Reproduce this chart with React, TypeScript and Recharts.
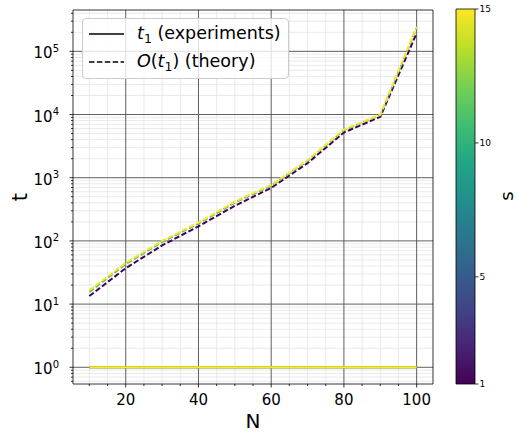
import React from 'react';
import {LineChart, ComposedChart, Line, XAxis, YAxis, CartesianGrid, ReferenceArea, Label} from 'recharts';

// grid sizes N on the x axis
const N_VALUES = [10, 20, 30, 40, 50, 60, 70, 80, 90, 100];
// s values that were plotted (coloured with viridis over 1..15)
const S_VALUES = [1, 11, 15];

// t1 measured in the experiments (flat at 1 for every s)
const EXP_S1 = [1, 1, 1, 1, 1, 1, 1, 1, 1, 1];
const EXP_S11 = [1, 1, 1, 1, 1, 1, 1, 1, 1, 1];
const EXP_S15 = [1, 1, 1, 1, 1, 1, 1, 1, 1, 1];

// O(t1) from theory
const THEORY_S1 = [13.4, 37, 85, 170, 360, 690, 1700, 5200, 9200, 193000];
const THEORY_S11 = [15.6, 43, 96, 188, 405, 745, 1850, 5650, 9800, 232000];
const THEORY_S15 = [16.6, 45, 100, 195, 420, 770, 1900, 5800, 10000, 243000];

const X_MAJOR_TICKS = [20, 40, 60, 80, 100];
const X_MINOR_TICKS = [10, 15, 25, 30, 35, 45, 50, 55, 65, 70, 75, 85, 90, 95];
const Y_MAJOR_TICKS = [1, 10, 100, 1000, 10000, 100000];
const S_TICKS = [1, 5, 10, 15];

const X_DOMAIN = [5.5, 104.5];
const Y_DOMAIN = [0.544, 451000];
const S_DOMAIN = [1, 15];

// log minor ticks 2..9 in every decade that is on screen
const Y_MINOR_TICKS: number[] = [];
for (let e = -1; e <= 5; e++) {
  for (let k = 2; k <= 9; k++) {
    const v = k * Math.pow(10, e);
    if (v > Y_DOMAIN[0] && v < Y_DOMAIN[1]) Y_MINOR_TICKS.push(v);
  }
}

const EXPERIMENTS = [EXP_S1, EXP_S11, EXP_S15];
const THEORY = [THEORY_S1, THEORY_S11, THEORY_S15];

const rows = N_VALUES.map((n, i) => {
  const row: Record<string, number> = {N: n};
  S_VALUES.forEach((s, j) => {
    row[`exp${s}`] = EXPERIMENTS[j][i];
    row[`th${s}`] = THEORY[j][i];
  });
  return row;
});

const VIRIDIS = [
  '#440154', '#482475', '#414487', '#355f8d', '#2a788e', '#21918c',
  '#22a884', '#44bf70', '#7ad151', '#bddf26', '#fde725',
];

const hexToRgb = (h: string) => [1, 3, 5].map((i) => parseInt(h.slice(i, i + 2), 16));

const viridis = (s: number) => {
  const t = (s - S_DOMAIN[0]) / (S_DOMAIN[1] - S_DOMAIN[0]);
  const p = t * (VIRIDIS.length - 1);
  const i = Math.min(Math.floor(p), VIRIDIS.length - 2);
  const f = p - i;
  const a = hexToRgb(VIRIDIS[i]);
  const b = hexToRgb(VIRIDIS[i + 1]);
  const c = a.map((v, k) => Math.round(v + (b[k] - v) * f));
  return `rgb(${c[0]},${c[1]},${c[2]})`;
};

const FONT = '"DejaVu Sans", sans-serif';
const DASH = '5.5 2.4';

const XTick = (props: any) => {
  const {x, y, payload} = props;
  const major = X_MAJOR_TICKS.includes(payload.value);
  return (
    <g>
      <line x1={x} x2={x} y1={y} y2={y + (major ? 3.5 : 2)} stroke='#000' strokeWidth={0.8} />
      {major && (
        <text x={x} y={y + 21} textAnchor='middle' fontSize={15} fill='#000' fontFamily={FONT}>
          {payload.value}
        </text>
      )}
    </g>
  );
};

const YTick = (props: any) => {
  const {x, y, payload} = props;
  const major = Y_MAJOR_TICKS.includes(payload.value);
  const exp = Math.round(Math.log10(payload.value));
  return (
    <g>
      <line x1={x} x2={x - (major ? 3.5 : 2)} y1={y} y2={y} stroke='#000' strokeWidth={0.8} />
      {major && (
        <text x={x - 14} y={y + 7} textAnchor='end' fontSize={15} fill='#000' fontFamily={FONT}>
          10
          <tspan fontSize={10} dy={-6.5}>
            {exp}
          </tspan>
        </text>
      )}
    </g>
  );
};

const LegendBox = () => (
  <div
    style={{
      position: 'absolute',
      left: 82,
      top: 18,
      width: 205,
      height: 59,
      border: '1px solid #cccccc',
      borderRadius: 4,
      background: 'rgba(255,255,255,0.8)',
      fontFamily: FONT,
      fontSize: 17.5,
      color: '#000',
    }}
  >
    <svg style={{position: 'absolute', left: 0, top: 0}} width={50} height={59}>
      <line x1={6} x2={41} y1={15} y2={15} stroke='#000' strokeWidth={1.5} />
      <line x1={6} x2={41} y1={43} y2={43} stroke='#000' strokeWidth={1.5} strokeDasharray={DASH} />
    </svg>
    <div style={{position: 'absolute', left: 54, top: 3, whiteSpace: 'nowrap', lineHeight: '22px'}}>
      <i>t</i>
      <span style={{fontSize: 12.5, position: 'relative', top: 4}}>1</span> (experiments)
    </div>
    <div style={{position: 'absolute', left: 54, top: 31, whiteSpace: 'nowrap', lineHeight: '22px'}}>
      <i>O</i>(<i>t</i>
      <span style={{fontSize: 12.5, position: 'relative', top: 4}}>1</span>) (theory)
    </div>
  </div>
);

export default function App() {
  return (
    <div style={{position: 'absolute', left: 0, top: 0, width: 518, height: 434, background: '#fff', fontFamily: FONT}}>
      <div style={{position: 'absolute', left: 0, top: 0}}>
        <LineChart width={440} height={434} data={rows} margin={{top: 10, right: 7, bottom: 0, left: 0}}>
          <CartesianGrid
            horizontalValues={Y_MINOR_TICKS}
            verticalValues={X_MINOR_TICKS}
            stroke='#e4e4e4'
            strokeWidth={0.8}
          />
          <CartesianGrid
            horizontalValues={Y_MAJOR_TICKS}
            verticalValues={X_MAJOR_TICKS}
            stroke='#4d4d4d'
            strokeWidth={0.9}
          />
          <XAxis
            dataKey='N'
            type='number'
            domain={X_DOMAIN}
            ticks={[...X_MINOR_TICKS, ...X_MAJOR_TICKS].sort((a, b) => a - b)}
            interval={0}
            allowDataOverflow
            height={50}
            tickSize={0}
            tickMargin={0}
            tickLine={false}
            axisLine={false}
            tick={<XTick />}
          >
            <Label
              content={() => (
                <text x={253} y={428} textAnchor='middle' fontSize={20} fill='#000' fontFamily={FONT}>
                  N
                </text>
              )}
            />
          </XAxis>
          <YAxis
            type='number'
            scale='log'
            domain={Y_DOMAIN}
            ticks={[...Y_MINOR_TICKS, ...Y_MAJOR_TICKS].sort((a, b) => a - b)}
            interval={0}
            allowDataOverflow
            width={73}
            tickSize={0}
            tickMargin={0}
            tickLine={false}
            axisLine={false}
            tick={<YTick />}
          >
            <Label
              content={() => (
                <text
                  x={26.5}
                  y={197}
                  transform='rotate(-90, 26.5, 197)'
                  textAnchor='middle'
                  fontSize={21}
                  fill='#000'
                  fontFamily={FONT}
                >
                  t
                </text>
              )}
            />
          </YAxis>
          {S_VALUES.map((s) => (
            <Line
              key={`exp${s}`}
              dataKey={`exp${s}`}
              type='linear'
              stroke={viridis(s)}
              strokeWidth={2}
              dot={false}
              activeDot={false}
              isAnimationActive={false}
            />
          ))}
          {S_VALUES.map((s) => (
            <Line
              key={`th${s}`}
              dataKey={`th${s}`}
              type='linear'
              stroke={viridis(s)}
              strokeWidth={2}
              strokeDasharray={DASH}
              dot={false}
              activeDot={false}
              isAnimationActive={false}
            />
          ))}
          <ReferenceArea
            x1={X_DOMAIN[0]}
            x2={X_DOMAIN[1]}
            y1={Y_DOMAIN[0]}
            y2={Y_DOMAIN[1]}
            fill='none'
            fillOpacity={0}
            stroke='#000'
            strokeWidth={0.8}
            ifOverflow='visible'
          />
        </LineChart>
      </div>
      <LegendBox />
      <div style={{position: 'absolute', left: 440, top: 0}}>
        <ComposedChart width={78} height={434} data={[{x: 0}, {x: 1}]} margin={{top: 9, right: 0, bottom: 50, left: 16}}>
          <defs>
            <linearGradient id='viridisBar' x1='0' y1='1' x2='0' y2='0'>
              {VIRIDIS.map((c, i) => (
                <stop key={c} offset={i / (VIRIDIS.length - 1)} stopColor={c} />
              ))}
            </linearGradient>
          </defs>
          <XAxis dataKey='x' type='number' domain={[0, 1]} hide />
          <YAxis
            orientation='right'
            type='number'
            domain={S_DOMAIN}
            ticks={S_TICKS}
            interval={0}
            allowDataOverflow
            width={43}
            tickSize={3.5}
            tickMargin={1}
            axisLine={false}
            tickLine={{stroke: '#000', strokeWidth: 0.8}}
            tick={{fontSize: 9, fill: '#000', fontFamily: FONT}}
          >
            <Label
              content={() => (
                <text
                  x={73}
                  y={196}
                  transform='rotate(-90, 73, 196)'
                  textAnchor='middle'
                  fontSize={18}
                  fill='#000'
                  fontFamily={FONT}
                >
                  s
                </text>
              )}
            />
          </YAxis>
          <ReferenceArea
            x1={0}
            x2={1}
            y1={S_DOMAIN[0]}
            y2={S_DOMAIN[1]}
            fill='url(#viridisBar)'
            fillOpacity={1}
            stroke='#000'
            strokeWidth={0.8}
            ifOverflow='visible'
          />
        </ComposedChart>
      </div>
    </div>
  );
}
